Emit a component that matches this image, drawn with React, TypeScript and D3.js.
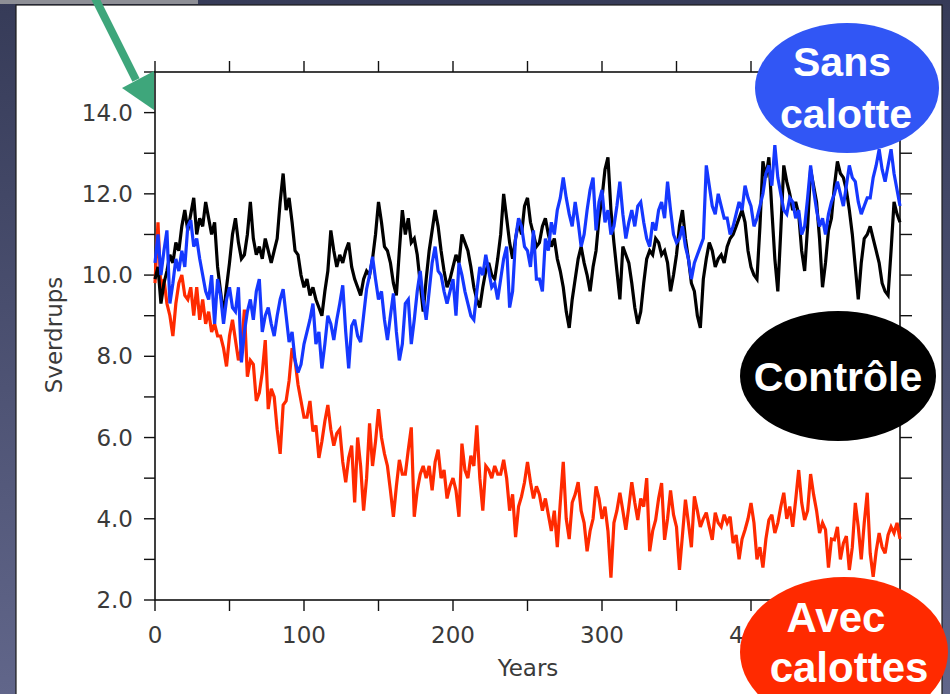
import React from "react";
import * as d3 from "d3";

// Samples every 2 years, 0..500
const YEAR_STEP = 2;

const controleValues = [
  9.9,10.2,9.3,9.8,10.1,10.5,10.3,10.8,10.6,11.2,
  11.6,11.1,11.5,11.9,11.0,11.4,11.2,11.8,11.4,11.0,
  11.3,10.2,9.6,9.0,9.7,10.3,11.0,11.4,10.8,10.4,
  10.5,11.0,11.8,10.9,10.5,10.7,10.4,10.9,10.6,10.3,
  10.6,10.9,11.8,12.5,11.6,11.9,11.3,10.6,10.5,10.0,
  9.7,9.9,9.5,9.7,9.4,9.2,9.0,9.6,10.1,11.1,
  10.6,10.2,10.5,10.3,10.6,10.8,10.2,9.9,9.7,9.5,
  9.9,10.1,10.0,10.4,11.0,11.8,11.3,10.7,10.6,10.3,
  9.8,9.5,10.6,11.6,11.0,11.4,10.8,10.9,10.5,9.8,
  9.1,9.9,10.6,11.1,11.6,11.2,10.6,10.1,9.7,9.9,
  10.2,10.5,10.3,11.0,10.8,10.6,10.2,9.7,9.4,9.2,
  9.7,10.1,10.3,10.0,9.9,10.4,11.0,12.0,11.4,10.8,
  10.4,10.9,11.3,11.0,11.7,11.9,11.3,11.0,10.7,10.8,
  11.2,11.4,11.0,10.7,10.9,10.4,10.1,9.7,9.1,8.7,
  9.4,9.9,10.4,10.7,10.3,10.0,9.6,10.2,10.6,11.4,
  11.9,12.6,12.9,11.6,10.8,10.1,9.4,10.7,10.5,10.3,
  9.8,9.2,8.8,9.1,9.8,10.4,10.6,10.5,10.9,10.8,
  10.5,10.6,10.3,9.6,10.0,10.5,11.2,11.6,10.9,10.4,
  9.8,9.6,9.0,8.7,9.9,10.4,10.8,10.6,10.2,10.4,
  10.5,10.3,10.7,10.9,11.0,11.2,11.4,11.6,11.3,10.6,
  10.2,10.0,9.9,11.2,12.8,12.4,12.9,11.6,10.4,9.6,
  11.1,12.7,12.3,12.0,11.6,11.8,11.5,10.6,10.1,11.2,
  12.6,12.2,11.8,10.9,9.7,10.3,11.1,11.4,12.2,12.8,
  12.5,12.4,12.1,11.6,11.0,10.2,9.4,10.3,10.9,11.0,
  11.2,10.9,10.6,10.3,9.8,9.6,9.5,10.6,11.8,11.5,
  11.3,
];

const sansCalotteValues = [
  10.3,11.0,10.0,10.6,11.1,9.3,9.8,10.4,10.1,10.6,
  10.2,11.2,11.35,10.7,10.9,10.4,10.0,9.6,9.4,10.0,
  8.8,9.9,9.5,8.8,9.4,9.7,9.2,9.1,9.7,7.85,
  8.6,9.1,9.4,8.9,9.6,9.9,8.6,9.0,9.2,8.8,
  8.5,9.0,9.4,9.65,9.0,8.35,8.6,7.9,7.6,7.8,
  8.3,8.6,8.9,9.3,8.3,8.6,7.7,8.3,9.0,8.8,
  8.4,8.9,9.3,9.75,8.6,7.7,8.75,8.9,8.5,8.35,
  9.0,9.65,10.0,10.45,9.9,9.4,9.6,8.9,8.4,9.0,
  9.55,8.6,7.9,8.3,9.3,9.4,8.3,8.9,9.6,10.1,
  9.4,8.9,9.6,10.3,10.7,10.1,10.0,9.6,9.3,9.6,
  9.9,9.0,10.3,10.0,9.6,9.3,9.0,8.9,9.6,10.2,
  10.0,10.5,10.1,9.7,9.8,9.4,9.9,10.4,10.7,9.2,
  9.6,10.9,11.4,11.2,10.7,10.6,10.2,11.1,9.9,9.9,
  9.6,10.9,10.6,11.3,11.0,11.6,11.9,12.4,11.9,11.5,
  11.2,11.8,11.3,10.7,11.0,11.6,12.1,12.4,11.1,11.8,
  12.1,11.3,11.6,11.0,11.2,11.7,12.3,11.5,10.9,11.3,
  11.6,11.2,11.7,11.8,11.3,10.9,10.7,11.3,11.1,11.6,
  11.8,11.4,12.3,11.6,11.0,10.8,10.9,11.2,10.7,10.4,
  9.9,10.3,10.5,10.7,10.9,12.7,12.2,11.7,11.5,12.0,
  11.7,11.4,11.4,11.0,11.2,11.5,11.8,11.6,12.2,11.9,
  11.7,11.2,11.4,11.7,12.0,12.5,12.7,12.2,13.2,12.4,
  12.0,11.6,11.5,11.9,11.8,11.4,11.6,11.0,11.2,11.9,
  12.7,12.1,11.6,11.2,11.4,11.0,11.5,11.8,12.0,12.3,
  12.0,11.7,12.2,12.7,12.4,12.3,11.8,11.5,11.7,11.9,
  11.9,12.4,12.7,13.1,12.6,12.3,12.7,13.1,12.5,12.1,
  11.7,
];

const avecCalottesValues = [
  9.8,11.3,9.6,9.9,9.3,9.0,8.5,9.3,9.8,10.0,
  9.5,9.4,9.7,9.0,9.7,8.9,9.4,8.8,9.1,8.6,
  8.8,8.5,8.5,8.2,7.75,8.5,8.9,8.4,7.9,8.2,
  9.15,7.5,7.9,7.8,6.9,7.1,7.6,8.4,6.7,7.2,
  7.0,6.2,5.6,6.8,6.9,7.4,8.2,7.9,7.3,6.9,
  6.5,6.5,6.9,6.15,6.3,5.5,5.9,6.4,6.8,6.2,
  5.8,6.1,6.2,5.4,4.9,5.5,5.8,4.4,6.0,5.3,
  4.2,5.0,6.35,5.3,5.9,6.7,6.0,5.6,5.3,4.7,
  4.05,4.8,5.45,5.1,5.1,5.7,6.25,4.05,4.7,5.1,
  5.3,5.0,5.3,4.7,5.4,5.7,5.0,5.2,4.5,4.8,
  5.0,4.7,4.05,5.85,5.2,5.0,5.55,5.3,6.3,5.0,
  4.2,5.3,5.2,5.0,5.3,5.1,5.1,5.45,5.0,4.2,
  4.6,3.55,4.3,4.55,4.9,5.4,4.9,4.5,4.8,4.6,
  4.2,4.5,4.1,3.7,4.2,3.3,4.4,5.4,4.0,3.5,
  4.4,4.6,4.9,4.2,3.9,3.2,3.7,4.0,4.8,4.5,
  4.0,4.3,3.7,2.55,3.9,4.2,4.64,4.2,3.73,4.3,
  4.9,4.4,3.97,4.5,4.3,5.0,3.2,3.7,3.97,4.5,
  4.88,3.48,4.0,4.7,4.1,3.8,2.74,3.6,4.47,3.9,
  3.3,4.55,4.2,3.8,4.0,4.15,3.8,3.48,4.15,3.9,
  3.8,4.1,3.9,4.05,3.4,3.6,3.0,3.5,3.73,4.0,
  4.39,3.9,3.0,3.3,2.8,3.5,3.97,4.1,3.65,3.9,
  4.3,4.64,4.0,4.3,3.8,4.47,5.2,4.4,3.97,4.2,
  5.1,4.6,4.2,3.65,3.9,3.73,2.8,3.5,3.48,3.8,
  3.0,3.4,3.57,2.74,3.3,4.39,3.8,3.0,3.9,4.64,
  3.15,2.57,3.2,3.65,3.3,3.15,3.6,3.8,3.65,3.9,
  3.5,
];

const xTickValues = [0, 50, 100, 150, 200, 250, 300, 350, 400, 450, 500];
const xTickLabels = ["0", "", "100", "", "200", "", "300", "", "400", "", "500"];
const yTickValues = [2, 3, 4, 5, 6, 7, 8, 9, 10, 11, 12, 13, 14, 15];
const yTickLabels = ["2.0", "", "4.0", "", "6.0", "", "8.0", "", "10.0", "", "12.0", "", "14.0", ""];

const xTitle = "Years";
const yTitle = "Sverdrups";
const legendSans = ["Sans", "calotte"];
const legendControle = ["Contrôle"];
const legendAvec = ["Avec", "calottes"];

const W = 950;
const H = 694;
const PL = 155, PR = 900, PT = 72, PB = 600;

const x = d3.scaleLinear().domain([0, 500]).range([PL, PR]);
const y = d3.scaleLinear().domain([2, 15]).range([PB, PT]);

const toPts = (vals: number[]) => vals.map((v, i) => [i * YEAR_STEP, v] as [number, number]);
const line = d3.line<[number, number]>().x(d => x(d[0])).y(d => y(d[1]));

const tickFont = "'DejaVu Sans', sans-serif";
const legendFont = "'Liberation Sans', Arial, sans-serif";

export default function App() {
  return (
    <svg width={W} height={H} style={{ position: "absolute", left: 0, top: 0, display: "block" }}>
      <defs>
        <linearGradient id="slide" x1="0" y1="0" x2="0" y2="1">
          <stop offset="0" stopColor="#363b58" />
          <stop offset="1" stopColor="#61668a" />
        </linearGradient>
      </defs>
      <rect x={0} y={0} width={W} height={H} fill="url(#slide)" />
      <rect x={0} y={0} width={198} height={4} fill="#8e8f96" />
      <rect x={16} y={5} width={926} height={H} fill="#ffffff" stroke="#1c1c1c" strokeWidth={1.2} />

      {/* axes frame */}
      <rect x={PL} y={PT} width={PR - PL} height={PB - PT} fill="none" stroke="#111" strokeWidth={1.6} />
      {xTickValues.map((t, i) => (
        <g key={"xt" + i}>
          <line x1={x(t)} x2={x(t)} y1={PB} y2={PB + 11} stroke="#111" strokeWidth={1.4} />
          <line x1={x(t)} x2={x(t)} y1={PT} y2={PT - 11} stroke="#111" strokeWidth={1.4} />
          {xTickLabels[i] && (
            <text x={x(t)} y={643} textAnchor="middle" fontFamily={tickFont} fontSize={23} fill="#3a3a3a">
              {xTickLabels[i]}
            </text>
          )}
        </g>
      ))}
      {yTickValues.map((t, i) => (
        <g key={"yt" + i}>
          <line x1={PL - 11} x2={PL} y1={y(t)} y2={y(t)} stroke="#111" strokeWidth={1.4} />
          <line x1={PR} x2={PR + 12} y1={y(t)} y2={y(t)} stroke="#111" strokeWidth={1.4} />
          {yTickLabels[i] && (
            <text x={133} y={y(t) + 8} textAnchor="end" fontFamily={tickFont} fontSize={23} fill="#3a3a3a">
              {yTickLabels[i]}
            </text>
          )}
        </g>
      ))}
      <text x={528} y={676} textAnchor="middle" fontFamily={tickFont} fontSize={23} fill="#3a3a3a">{xTitle}</text>
      <text transform="translate(62,335) rotate(-90)" textAnchor="middle" fontFamily={tickFont} fontSize={23} fill="#3a3a3a">{yTitle}</text>

      {/* series */}
      <path d={line(toPts(avecCalottesValues)) || ""} fill="none" stroke="#ff2a00" strokeWidth={3.2} strokeLinejoin="miter" strokeMiterlimit={3} />
      <path d={line(toPts(controleValues)) || ""} fill="none" stroke="#000000" strokeWidth={3.2} strokeLinejoin="miter" strokeMiterlimit={3} />
      <path d={line(toPts(sansCalotteValues)) || ""} fill="none" stroke="#1538ff" strokeWidth={3.2} strokeLinejoin="miter" strokeMiterlimit={3} />

      {/* green arrow */}
      <line x1={94} y1={-4} x2={136} y2={80} stroke="#3ea67b" strokeWidth={8} />
      <polygon points="122,88 154,71 154,110" fill="#3ea67b" />

      {/* legend ellipses */}
      <ellipse cx={847} cy={88} rx={92} ry={65} fill="#3156f5" />
      <text x={842} y={76} textAnchor="middle" fontFamily={legendFont} fontWeight="bold" fontSize={41} fill="#fff">{legendSans[0]}</text>
      <text x={846} y={128} textAnchor="middle" fontFamily={legendFont} fontWeight="bold" fontSize={41} fill="#fff">{legendSans[1]}</text>

      <ellipse cx={838} cy={376} rx={98} ry={65} fill="#000" />
      <text x={838} y={391} textAnchor="middle" fontFamily={legendFont} fontWeight="bold" fontSize={41} fill="#fff">{legendControle[0]}</text>

      <ellipse cx={844} cy={652} rx={104} ry={75} fill="#ff2a00" />
      <text x={836} y={632} textAnchor="middle" fontFamily={legendFont} fontWeight="bold" fontSize={42} fill="#fff">{legendAvec[0]}</text>
      <text x={849} y={682} textAnchor="middle" fontFamily={legendFont} fontWeight="bold" fontSize={42} fill="#fff">{legendAvec[1]}</text>
    </svg>
  );
}
